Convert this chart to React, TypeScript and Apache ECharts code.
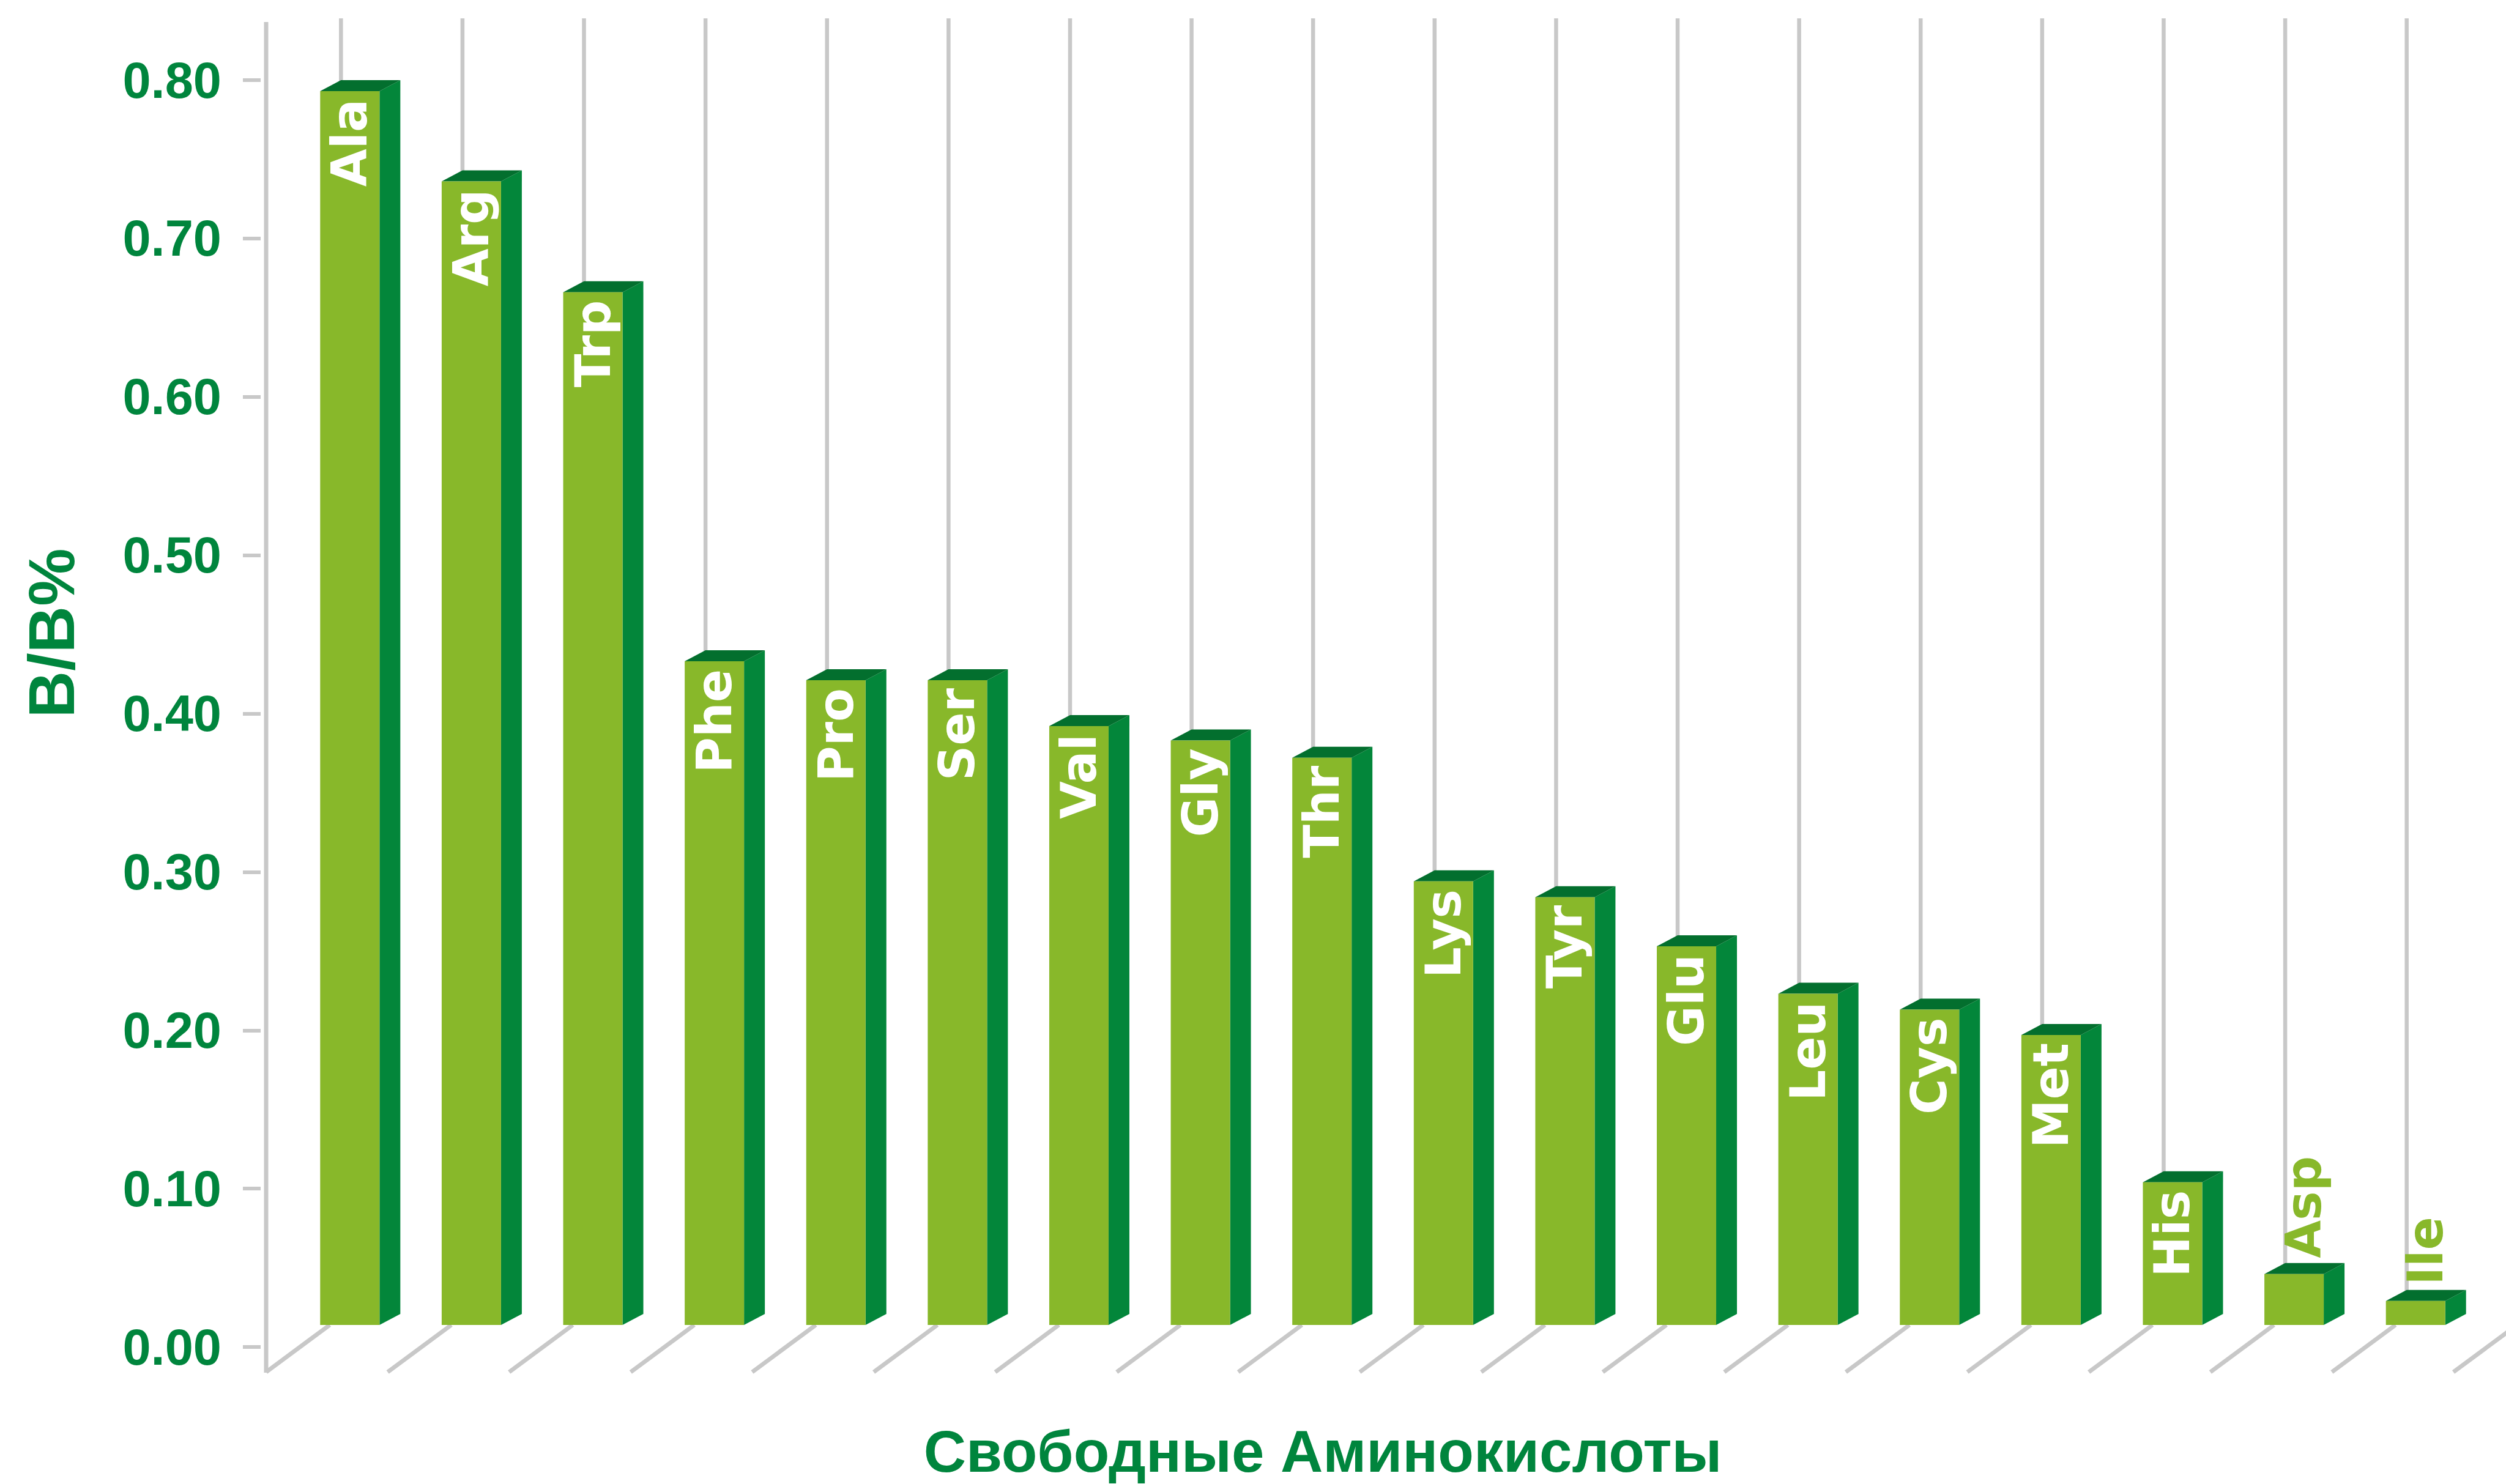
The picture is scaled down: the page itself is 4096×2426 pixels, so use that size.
import React, { useEffect, useRef } from "react";
import * as echarts from "echarts";

// ---- data ----
const categories = ["Ala", "Arg", "Trp", "Phe", "Pro", "Ser", "Val", "Gly", "Thr", "Lys", "Tyr", "Glu", "Leu", "Cys", "Met", "His", "Asp", "Ile"];
const values = [0.8, 0.743, 0.673, 0.44, 0.428, 0.428, 0.399, 0.39, 0.379, 0.301, 0.291, 0.26, 0.23, 0.22, 0.204, 0.111, 0.053, 0.036];
const yTicks = { min: 0, max: 0.8, interval: 0.1 };
const xTitle = "Свободные Аминокислоты";
const yTitle = "В/В%";

// ---- layout / style ----
const W = 4096;
const H = 2426;
const GRID_LEFT = 435;
const GRID_RIGHT = 86;
const GRID_TOP = 131;
const GRID_BOTTOM = 224;
const AXIS_TOP = 36;
const AXIS_BOTTOM = 2244;
const GRIDLINE_TOP = 30;
const FLOOR_DX = 104;
const FLOOR_DY = 77;
const BASE_LIFT = 36; // front-face bottom above y(0)
const FRONT_OFF = -11; // front-left relative to category centre
const FRONT_W = 97;
const DEPTH_X = 34;
const DEPTH_Y = 18;
const GREEN_TEXT = "#00853d";
const FRONT = "#88b82a";
const SIDE = "#03863a";
const TOP = "#036f2e";
const GRAY = "#c8c8c8";
const FONT = "'Liberation Sans', Arial, Helvetica, sans-serif";
const LABEL_FONT = "'DejaVu Sans', 'Liberation Sans', sans-serif";

export default function App() {
  const ref = useRef<HTMLDivElement>(null);
  useEffect(() => {
    document.body.style.margin = "0";
    const chart = echarts.init(ref.current!, null, { renderer: "svg" });
    const n = categories.length;
    const option: any = {
      animation: false,
      backgroundColor: "#ffffff",
      grid: { left: GRID_LEFT, right: GRID_RIGHT, top: GRID_TOP, bottom: GRID_BOTTOM },
      xAxis: {
        type: "category",
        data: categories,
        boundaryGap: true,
        axisLine: { show: false },
        axisTick: { show: false },
        axisLabel: { show: false },
      },
      yAxis: {
        type: "value",
        min: yTicks.min,
        max: yTicks.max,
        interval: yTicks.interval,
        offset: 9,
        axisLine: { show: false },
        axisTick: { show: true, length: 29, lineStyle: { color: GRAY, width: 6 } },
        splitLine: { show: false },
        axisLabel: {
          margin: 64,
          color: GREEN_TEXT,
          fontSize: 83,
          fontWeight: "bold",
          fontFamily: FONT,
          formatter: (v: number) => v.toFixed(2),
        },
      },
      graphic: [
        {
          type: "line",
          shape: { x1: GRID_LEFT, y1: AXIS_TOP, x2: GRID_LEFT, y2: AXIS_BOTTOM },
          style: { stroke: GRAY, lineWidth: 7 },
          z: 1,
        },
        {
          type: "text",
          x: 2162,
          y: 2372,
          style: {
            text: xTitle,
            fill: GREEN_TEXT,
            fontSize: 96,
            fontWeight: "bold",
            fontFamily: FONT,
            align: "center",
            verticalAlign: "middle",
          },
        },
        {
          type: "text",
          x: 84,
          y: 1035,
          rotation: Math.PI / 2,
          style: {
            text: yTitle,
            fill: GREEN_TEXT,
            fontSize: 106,
            fontWeight: "bold",
            fontFamily: FONT,
            align: "center",
            verticalAlign: "middle",
          },
        },
      ],
      series: [
        {
          type: "custom",
          data: values.map((v, i) => [i, v]),
          encode: { x: 0, y: 1 },
          renderItem: (params: any, api: any) => {
            const idx = api.value(0);
            const v = api.value(1);
            const c = api.coord([idx, v]);
            const c0 = api.coord([idx, 0]);
            const band = api.size([1, 0])[0];
            const bandLeft = c[0] - band / 2;
            const fl = c[0] + FRONT_OFF;
            const fr = fl + FRONT_W;
            const backTop = c[1];
            const ft = backTop + DEPTH_Y;
            const fb = c0[1] - BASE_LIFT;
            const floorBottom = fb + FLOOR_DY;
            const children: any[] = [];
            // vertical grid line behind bar
            children.push({
              type: "line",
              shape: { x1: fl + DEPTH_X, y1: GRIDLINE_TOP, x2: fl + DEPTH_X, y2: backTop + 2 },
              style: { stroke: GRAY, lineWidth: 6.5 },
            });
            // floor lines
            children.push({
              type: "line",
              shape: { x1: bandLeft, y1: floorBottom, x2: bandLeft + FLOOR_DX, y2: fb },
              style: { stroke: GRAY, lineWidth: 7 },
            });
            if (params.dataIndex === n - 1) {
              children.push({
                type: "line",
                shape: { x1: bandLeft + band, y1: floorBottom, x2: bandLeft + band + FLOOR_DX, y2: fb },
                style: { stroke: GRAY, lineWidth: 7 },
              });
            }
            // side face
            children.push({
              type: "polygon",
              shape: { points: [[fr, ft], [fr + DEPTH_X, ft - DEPTH_Y], [fr + DEPTH_X, fb - DEPTH_Y], [fr, fb]] },
              style: { fill: SIDE },
            });
            // top face
            children.push({
              type: "polygon",
              shape: { points: [[fl, ft], [fl + DEPTH_X, ft - DEPTH_Y], [fr + DEPTH_X, ft - DEPTH_Y], [fr, ft]] },
              style: { fill: TOP },
            });
            // front face
            children.push({
              type: "rect",
              shape: { x: fl, y: ft, width: FRONT_W, height: fb - ft },
              style: { fill: FRONT },
            });
            // label
            const inside = fb - ft > 170;
            children.push({
              type: "text",
              x: inside ? (fl + fr) / 2 : (fl + fr) / 2 + 16,
              y: inside ? ft + 13 : backTop - 8,
              rotation: Math.PI / 2,
              style: {
                text: categories[idx],
                fill: inside ? "#ffffff" : FRONT,
                fontSize: 80,
                fontWeight: "bold",
                fontFamily: LABEL_FONT,
                align: inside ? "right" : "left",
                verticalAlign: "middle",
              },
            });
            return { type: "group", children };
          },
        },
      ],
    };
    chart.setOption(option);
    return () => chart.dispose();
  }, []);
  return (
    <div
      ref={ref}
      style={{ position: "absolute", left: 0, top: 0, width: W, height: H }}
    />
  );
}
